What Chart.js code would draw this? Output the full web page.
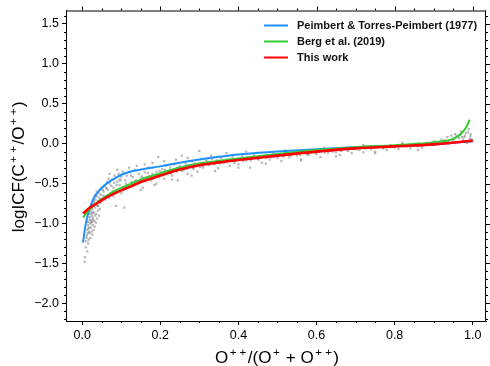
<!DOCTYPE html>
<html>
<head>
<meta charset="utf-8">
<script src="https://cdn.jsdelivr.net/npm/chart.js@4.4.1/dist/chart.umd.min.js"></script>
<style>
  html, body { margin: 0; padding: 0; background: #fff; }
  #wrap { width: 490px; height: 366px; }
</style>
</head>
<body>
<div id="wrap"><canvas id="c" width="490" height="366"></canvas></div>
<script>
// ---- Data ----
const seriesLabels = ['Peimbert & Torres-Peimbert (1977)', 'Berg et al. (2019)', 'This work'];
const xTickValues = [0, 0.2, 0.4, 0.6, 0.8, 1.0];
const yTickValues = [-2.0, -1.5, -1.0, -0.5, 0.0, 0.5, 1.0, 1.5];
const xTitleParts = [['O', 0], ['+ +', 1], ['/(O', 0], ['+', 1], [' + O', 0], ['+ +', 1], [')', 0]];
const yTitleParts = [['logICF(C', 0], ['+ +', 1], ['/O', 0], ['+ +', 1], [')', 0]];

// Peimbert & Torres-Peimbert (1977)
const ptpX = [0.002,0.01,0.02,0.03,0.045,0.06,0.075,0.09,0.105,0.12,0.15,0.2,0.25,0.3,0.35,0.4,0.5,0.6,0.7,0.8,0.9,1.0];
const ptpY = [-1.24,-0.98,-0.80,-0.68,-0.58,-0.51,-0.46,-0.415,-0.38,-0.355,-0.325,-0.285,-0.24,-0.20,-0.165,-0.135,-0.10,-0.07,-0.045,-0.03,-0.01,0.03];

// Berg et al. (2019)
const bergX = [0.002,0.02,0.04,0.06,0.08,0.1,0.125,0.15,0.2,0.25,0.3,0.35,0.4,0.5,0.6,0.7,0.8,0.85,0.9,0.93,0.95,0.965,0.975,0.985,0.992];
const bergY = [-0.925,-0.82,-0.73,-0.66,-0.60,-0.555,-0.50,-0.45,-0.37,-0.30,-0.25,-0.215,-0.185,-0.13,-0.08,-0.045,-0.02,-0.005,0.015,0.035,0.06,0.10,0.15,0.22,0.30];

// This work
const thisX = [0.002,0.02,0.04,0.06,0.08,0.1,0.125,0.15,0.2,0.25,0.3,0.35,0.4,0.5,0.6,0.7,0.8,0.9,1.0];
const thisY = [-0.875,-0.80,-0.74,-0.68,-0.63,-0.585,-0.535,-0.48,-0.40,-0.325,-0.27,-0.235,-0.205,-0.15,-0.10,-0.06,-0.035,-0.01,0.035];

// Scatter of model points (grey)
const scatterX = [0.006,0.007,0.009,0.010,0.012,0.013,0.014,0.015,0.016,0.017,0.018,0.019,0.020,0.021,0.022,0.023,0.024,0.025,0.026,0.027,0.028,0.030,0.031,0.033,0.034,0.036,0.038,0.040,0.042,0.044,0.046,0.048,0.050,0.052,0.055,0.058,0.060,0.063,0.066,0.070,0.073,0.076,0.080,0.083,0.086,0.090,0.093,0.096,0.100,0.104,0.108,0.110,0.115,0.118,0.122,0.127,0.130,0.135,0.140,0.145,0.150,0.155,0.160,0.165,0.170,0.175,0.180,0.185,0.190,0.195,0.200,0.205,0.210,0.215,0.220,0.225,0.230,0.235,0.240,0.245,0.250,0.255,0.260,0.265,0.270,0.275,0.280,0.285,0.290,0.295,0.300,0.305,0.310,0.318,0.325,0.332,0.340,0.348,0.355,0.362,0.370,0.378,0.385,0.392,0.400,0.41,0.42,0.43,0.44,0.45,0.46,0.47,0.48,0.49,0.50,0.51,0.52,0.53,0.54,0.55,0.56,0.57,0.58,0.59,0.60,0.61,0.62,0.63,0.64,0.65,0.66,0.67,0.68,0.69,0.70,0.71,0.72,0.73,0.74,0.75,0.76,0.77,0.78,0.79,0.80,0.81,0.82,0.83,0.84,0.85,0.86,0.87,0.88,0.89,0.90,0.91,0.92,0.93,0.935,0.94,0.945,0.95,0.955,0.96,0.965,0.97,0.975,0.98,0.985,0.99,0.992,0.995,0.998,
  0.011,0.016,0.019,0.023,0.027,0.029,0.035,0.039,0.045,0.053,0.062,0.068,0.078,0.088,0.098,0.112,0.125,0.138,0.152,0.168,0.182,0.198,0.212,0.228,0.243,0.258,0.272,0.288,0.302,0.322,0.345,0.368,0.395,0.425,0.455,0.485,0.515,0.545,0.575,0.605,0.635,0.665,0.695,0.725,0.755,0.785,0.815,0.845,0.875,0.905,0.925,0.948,0.958,0.968,0.978,0.988,0.996,
  0.105,0.115,0.125,0.135,0.145,0.155,0.162,0.172,0.178,0.188,0.196,0.203,0.212,0.218,0.226,0.233,0.242,0.248,0.256,0.262,0.268,0.278,0.284,0.292,0.298,0.308,0.315,0.322,0.330,0.338,0.345,0.352,0.360,0.372,0.380,0.390,0.402,0.412,0.422,0.432,0.442,0.452,0.462,0.472,0.482,0.492,0.505,0.515,0.525,0.535,0.548,0.558,0.568,0.578,0.588,0.598,0.612,0.622,0.632,0.642,0.652,0.662,0.672,0.682,0.692,0.702,0.715,0.728,0.738,0.748,0.762,0.772,0.782,0.792,0.805,0.818,0.828,0.838,0.848,0.862,0.872,0.882,0.895,0.905,0.915,0.928,0.938,0.952,0.962,0.972,0.982,0.994,0.999,
  0.012,0.014,0.017,0.020,0.024,0.028,0.032,0.037,0.041,0.047,0.054,0.061,0.069,0.074,0.082,0.087,0.095,
  0.019,0.021,0.022,0.024,0.025,0.026,0.027,0.028,0.029,0.031,0.032,0.033,0.035,0.036,0.038,0.040,0.043,0.045,0.015,0.017,0.013,
  0.12,0.14,0.16,0.18,0.21,0.24,0.27,0.33,0.37,0.42,0.15,0.19,0.23,0.28,0.34,0.40,0.47,0.56,0.65,0.75,0.86,0.52,0.62,0.72,0.82,0.07,0.09,0.06,0.08,0.10];
const scatterY = [-1.48,-1.42,-1.30,-1.22,-1.15,-1.08,-1.12,-1.02,-0.98,-1.10,-1.05,-0.95,-0.92,-1.00,-0.88,-0.96,-0.85,-0.90,-0.82,-0.93,-0.78,-0.86,-0.74,-0.80,-0.70,-0.76,-0.66,-0.72,-0.62,-0.68,-0.58,-0.64,-0.55,-0.70,-0.60,-0.52,-0.66,-0.48,-0.58,-0.50,-0.62,-0.45,-0.55,-0.40,-0.78,-0.48,-0.38,-0.52,-0.42,-0.35,-0.80,-0.46,-0.40,-0.55,-0.36,-0.48,-0.42,-0.33,-0.50,-0.38,-0.44,-0.55,-0.36,-0.42,-0.30,-0.46,-0.38,-0.52,-0.35,-0.17,-0.40,-0.32,-0.44,-0.28,-0.36,-0.30,-0.40,-0.26,-0.34,-0.46,-0.28,-0.15,-0.33,-0.25,-0.38,-0.29,-0.22,-0.32,-0.26,-0.35,-0.09,-0.24,-0.30,-0.21,-0.27,-0.19,-0.25,-0.31,-0.18,-0.24,-0.20,-0.28,-0.17,-0.22,-0.26,-0.16,-0.21,-0.30,-0.14,-0.19,-0.24,-0.15,-0.20,-0.12,-0.18,-0.22,-0.13,-0.17,-0.10,-0.15,-0.20,-0.11,-0.14,-0.08,-0.13,-0.17,-0.09,-0.12,-0.07,-0.11,-0.14,-0.06,-0.09,-0.12,-0.05,-0.08,-0.11,-0.04,-0.07,-0.10,-0.03,-0.06,-0.08,-0.02,-0.05,-0.07,-0.01,-0.04,-0.06,0.00,-0.03,-0.05,0.01,-0.02,0.03,-0.01,0.05,0.02,0.08,0.00,0.10,0.04,0.12,0.02,0.07,0.15,0.05,0.10,0.01,0.18,0.06,0.12,0.03,
  -1.18,-1.06,-0.84,-0.99,-0.87,-0.72,-0.64,-0.78,-0.70,-0.58,-0.56,-0.44,-0.60,-0.52,-0.46,-0.50,-0.40,-0.46,-0.41,-0.37,-0.44,-0.34,-0.33,-0.37,-0.30,-0.31,-0.27,-0.25,-0.29,-0.23,-0.21,-0.23,-0.20,-0.18,-0.16,-0.17,-0.15,-0.12,-0.13,-0.10,-0.09,-0.08,-0.07,-0.06,-0.05,-0.04,-0.03,-0.02,-0.02,0.00,0.01,0.06,0.09,0.11,0.08,0.14,0.05,
  -0.58,-0.52,-0.50,-0.47,-0.49,-0.43,-0.47,-0.41,-0.44,-0.39,-0.42,-0.36,-0.38,-0.35,-0.37,-0.33,-0.35,-0.31,-0.34,-0.29,-0.32,-0.27,-0.30,-0.28,-0.25,-0.28,-0.24,-0.26,-0.23,-0.26,-0.22,-0.25,-0.21,-0.23,-0.20,-0.24,-0.19,-0.22,-0.18,-0.21,-0.17,-0.20,-0.16,-0.18,-0.15,-0.17,-0.14,-0.16,-0.13,-0.15,-0.12,-0.14,-0.11,-0.13,-0.10,-0.12,-0.09,-0.11,-0.08,-0.10,-0.07,-0.09,-0.07,-0.08,-0.06,-0.07,-0.05,-0.06,-0.04,-0.05,-0.04,-0.05,-0.03,-0.04,-0.02,-0.03,-0.02,-0.01,-0.02,0.00,-0.01,0.00,0.01,0.02,0.01,0.04,0.03,0.06,0.10,0.08,0.13,0.09,0.05,
  -0.98,-0.92,-0.88,-0.80,-0.76,-0.70,-0.65,-0.60,-0.78,-0.74,-0.65,-0.55,-0.68,-0.53,-0.49,-0.60,-0.45,
  -1.12,-1.18,-1.05,-1.10,-0.98,-1.14,-1.02,-0.95,-1.08,-0.97,-1.04,-0.90,-0.99,-0.88,-0.94,-0.84,-0.90,-0.82,-1.25,-1.20,-1.35,
  -0.30,-0.28,-0.26,-0.24,-0.22,-0.20,-0.18,-0.15,-0.12,-0.10,-0.58,-0.50,-0.45,-0.40,-0.34,-0.30,-0.25,-0.21,-0.16,-0.12,-0.08,-0.08,-0.05,-0.02,0.01,-0.38,-0.33,-0.70,-0.66,-0.62];

// ---- Chart ----
const FONT = "'Liberation Sans', Arial, Helvetica, sans-serif";
const toPts = (xs, ys) => xs.map((x, i) => ({ x: x, y: ys[i] }));
const fmt = v => (Math.round(v * 10) / 10).toFixed(1).replace('-', '\u2212');

function drawRich(ctx, parts, cx, baseline, size, supSize, supRise) {
  const fontOf = s => (s ? supSize : size) + 'px ' + FONT;
  const gap = 1.5;
  let total = 0;
  const widths = parts.map(([t, s]) => {
    ctx.font = fontOf(s);
    const w = ctx.measureText(t).width + (s ? 2 * gap : 0);
    total += w; return w;
  });
  let x = cx - total / 2;
  ctx.textAlign = 'left';
  ctx.textBaseline = 'alphabetic';
  parts.forEach(([t, s], i) => {
    ctx.font = fontOf(s);
    ctx.fillText(t, x + (s ? gap : 0), s ? baseline - supRise : baseline);
    x += widths[i];
  });
}

const axisTitles = {
  id: 'axisTitles',
  afterDraw(chart) {
    const ctx = chart.ctx, a = chart.chartArea;
    ctx.save();
    ctx.fillStyle = '#000';
    drawRich(ctx, xTitleParts, (a.left + a.right) / 2 + 1, 362.5, 17, 11.5, 7);
    ctx.translate(23.5, (a.top + a.bottom) / 2 + 1);
    ctx.rotate(-Math.PI / 2);
    drawRich(ctx, yTitleParts, 0, 0, 17, 11.5, 7);
    ctx.restore();
  }
};

const frameAndMinorTicks = {
  id: 'frameAndMinorTicks',
  afterDraw(chart) {
    const ctx = chart.ctx, a = chart.chartArea;
    const xs = chart.scales.x, ys = chart.scales.y;
    ctx.save();
    ctx.strokeStyle = '#000';
    ctx.lineWidth = 1;
    ctx.beginPath();
    ctx.moveTo(a.left, a.top + 0.5); ctx.lineTo(a.right, a.top + 0.5);
    ctx.moveTo(a.right - 0.5, a.top); ctx.lineTo(a.right - 0.5, a.bottom);
    ctx.stroke();
    ctx.beginPath();
    for (let k = 0; k <= 20; k++) {
      const v = k * 0.05;
      const px = Math.round(xs.getPixelForValue(v)) + 0.5;
      const major = k % 4 === 0;
      if (!major) { ctx.moveTo(px, a.bottom); ctx.lineTo(px, a.bottom + 2); }
      const L = major ? 4 : 2;
      ctx.moveTo(px, a.top); ctx.lineTo(px, a.top - L);
    }
    for (let k = -22; k <= 16; k++) {
      const v = k / 10;
      const py = Math.round(ys.getPixelForValue(v)) + 0.5;
      const major = k % 5 === 0;
      if (!major) { ctx.moveTo(a.left, py); ctx.lineTo(a.left - 2, py); }
      const L = major ? 4 : 2;
      ctx.moveTo(a.right, py); ctx.lineTo(a.right + L, py);
    }
    ctx.stroke();
    ctx.restore();
  }
};

const customLegend = {
  id: 'customLegend',
  afterDraw(chart) {
    const ctx = chart.ctx, a = chart.chartArea;
    const order = [2, 1, 0];
    ctx.save();
    ctx.font = "bold 11px " + FONT;
    ctx.textBaseline = 'middle';
    ctx.textAlign = 'left';
    order.forEach((di, i) => {
      const ds = chart.data.datasets[di];
      const y = a.top + 15 + i * 16;
      const x0 = a.right - 222;
      ctx.strokeStyle = ds.borderColor;
      ctx.lineWidth = 2;
      ctx.beginPath();
      ctx.moveTo(x0, y); ctx.lineTo(x0 + 24, y);
      ctx.stroke();
      ctx.fillStyle = '#111';
      ctx.fillText(ds.label, x0 + 33, y + 0.5);
    });
    ctx.restore();
  }
};

new Chart(document.getElementById('c'), {
  type: 'scatter',
  data: {
    datasets: [
      {
        type: 'line', label: seriesLabels[2], data: toPts(thisX, thisY),
        borderColor: '#ff0000', backgroundColor: '#ff0000', borderWidth: 2.6,
        pointRadius: 0, cubicInterpolationMode: 'monotone', order: 0
      },
      {
        type: 'line', label: seriesLabels[1], data: toPts(bergX, bergY),
        borderColor: '#33cc33', backgroundColor: '#33cc33', borderWidth: 2,
        pointRadius: 0, cubicInterpolationMode: 'monotone', order: 1
      },
      {
        type: 'line', label: seriesLabels[0], data: toPts(ptpX, ptpY),
        borderColor: '#1e90ff', backgroundColor: '#1e90ff', borderWidth: 2,
        pointRadius: 0, cubicInterpolationMode: 'monotone', order: 2
      },
      {
        label: 'models', data: toPts(scatterX, scatterY),
        backgroundColor: 'rgba(115,115,115,0.5)', borderWidth: 0,
        pointStyle: 'rect', pointRadius: 1.6, order: 3
      }
    ]
  },
  options: {
    responsive: false,
    animation: false,
    events: [],
    layout: { padding: { top: 10, right: 1, left: 0, bottom: 0 } },
    plugins: { legend: { display: false }, tooltip: { enabled: false } },
    scales: {
      x: {
        type: 'linear', min: -0.0415, max: 1.034,
        afterBuildTicks: s => { s.ticks = xTickValues.map(v => ({ value: v })); },
        afterFit: s => { s.height = 45; },
        grid: { drawOnChartArea: false, drawTicks: true, tickLength: 4, color: '#000', tickColor: '#000' },
        border: { display: true, color: '#000', width: 1 },
        ticks: { color: '#000', font: { family: FONT, size: 12.5 }, padding: 3, maxRotation: 0, callback: v => fmt(v) },
        title: { display: false }
      },
      y: {
        type: 'linear', min: -2.22, max: 1.666,
        afterBuildTicks: s => { s.ticks = yTickValues.map(v => ({ value: v })); },
        afterFit: s => { s.width = 66; },
        grid: { drawOnChartArea: false, drawTicks: true, tickLength: 4, color: '#000', tickColor: '#000' },
        border: { display: true, color: '#000', width: 1 },
        ticks: { color: '#000', font: { family: FONT, size: 12.5 }, padding: 3, callback: v => fmt(v) },
        title: { display: false }
      }
    }
  },
  plugins: [frameAndMinorTicks, customLegend, axisTitles]
});
</script>
</body>
</html>
